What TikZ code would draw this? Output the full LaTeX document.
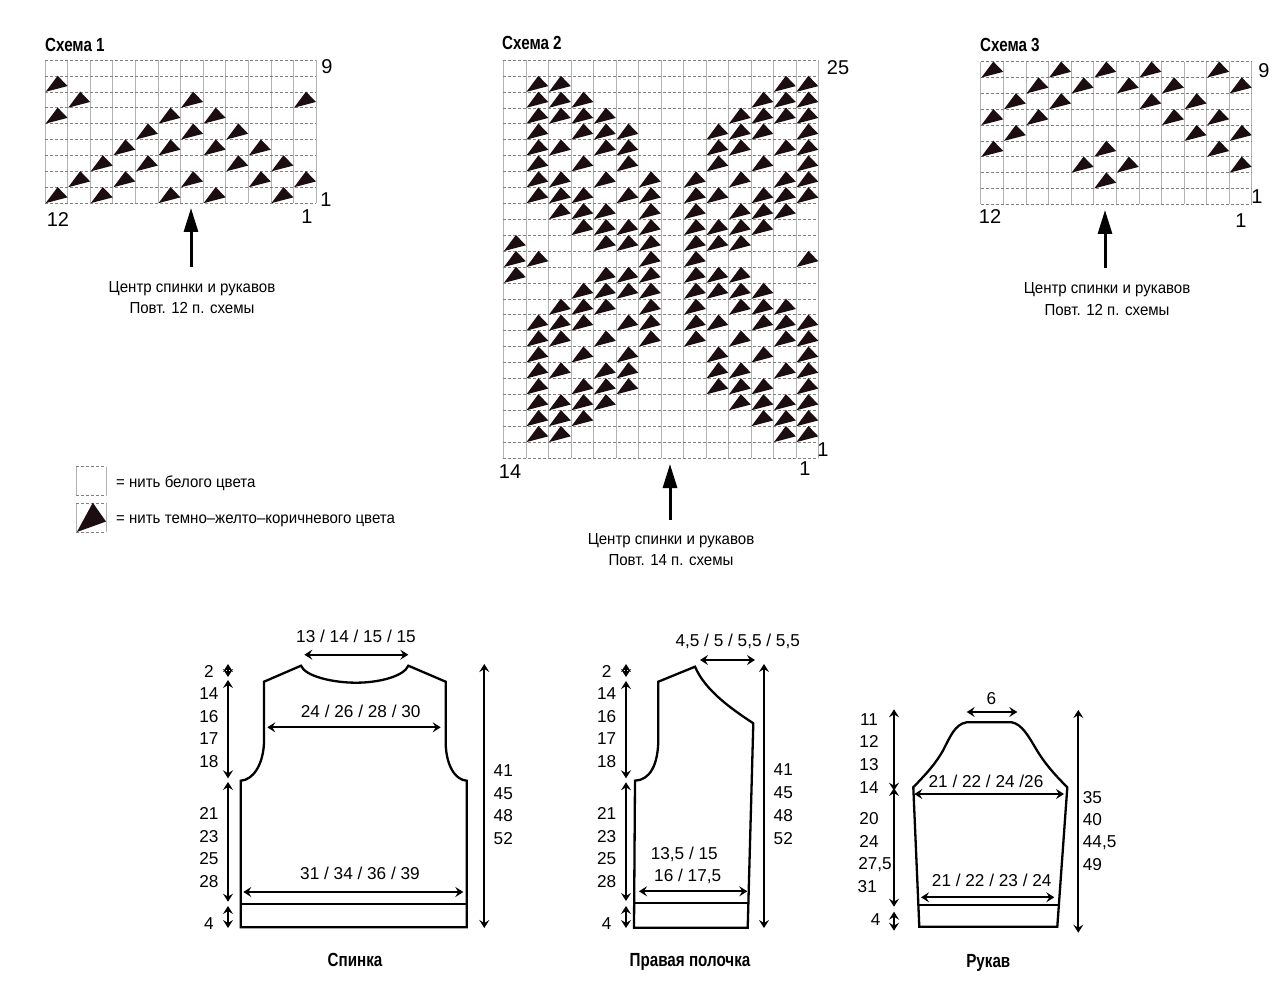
\documentclass[tikz,border=0pt]{standalone}
\usepackage{fontspec}
\setmainfont{Liberation Sans}
\newfontfamily\titlefont[FakeStretch=0.8]{Liberation Sans}
\newfontfamily\notefont[FakeStretch=0.94]{Liberation Sans}
\usetikzlibrary{arrows.meta}
\definecolor{knitdark}{HTML}{1C0E10}
\tikzset{
	knitrowline/.style={densely dashed,line width=0.5pt,black!50},
	knitcolline/.style={line width=0.5pt,black!30},
	knitcell/.style={fill=knitdark},
	outline/.style={line width=2.3pt,line join=miter},
	dimline/.style={{Stealth[length=8pt,width=10pt,inset=3pt]}-{Stealth[length=8pt,width=10pt,inset=3pt]},line width=1.8pt},
	centerline/.style={-{Stealth[length=24pt,width=14pt,inset=0pt]},line width=3pt},
	chartnum/.style={font=\fontsize{20}{22}\selectfont,inner sep=0pt},
	sizenum/.style={font=\fontsize{17.2}{19}\selectfont,inner sep=0pt},
	notetext/.style={font=\notefont\fontsize{16}{18}\selectfont,inner sep=0pt},
	charttitle/.style={font=\titlefont\bfseries\fontsize{19}{21}\selectfont,inner sep=0pt,anchor=west},
	parttitle/.style={font=\titlefont\bfseries\fontsize{19}{21}\selectfont,inner sep=0pt}
}
% x, y, cell width, cell height, columns, rows, row/{columns}
\newcommand{\knitchart}[7]{
	\begin{scope}[shift={(#1,#2)},x=#3pt,y=-#4pt]
		\foreach \i in {0,...,#5} \draw[knitcolline] (\i,0)--(\i,#6);
		\foreach \j in {0,...,#6} \draw[knitrowline] (0,\j)--(#5,\j);
		\foreach \r/\cs in {#7}{
			\foreach \c in \cs{
				\fill[knitcell] ({\c-1+.03},\r)--({\c-1+.56},\r-1.01)--({\c-1+1},\r-.36)--cycle;
			}
		}
	\end{scope}
}
\begin{document}
\begin{tikzpicture}[x=1pt,y=-1pt]
	\path[use as bounding box,fill=white] (0,0) rectangle (1288,1008);

	% charts
	\node[charttitle] (title1) at (45,45) {Схема 1};
	\knitchart{45}{60}{22.58}{15.9}{12}{9}{2/{1},3/{2,7,12},4/{1,6,8},5/{5,7,9},6/{4,6,8,10},7/{3,5,9,11},8/{2,4,7,10,12},9/{1,3,6,8,11}}
	\node[chartnum] (c1top) at (327,67) {9};
	\node[chartnum] (c1right) at (326,200) {1};
	\node[chartnum] (c1left) at (58,220) {12};
	\node[chartnum] (c1low) at (307,217) {1};
	\coordinate (c1a) at (191,267);
	\coordinate (c1b) at (191,208);
	\draw[centerline] (c1a)--(c1b);
	\node[notetext] (c1note) at (192,288.5) {Центр спинки и рукавов};
	\node[notetext] (c1rep) at (192,307.5) {Повт. 12 п. схемы};

	\node[charttitle] (title2) at (502,43) {Схема 2};
	\knitchart{503.3}{60}{22.5}{15.92}{14}{25}{2/{2,3,13,14},3/{2,3,4,12,13,14},4/{2,3,4,5,11,12,13,14},5/{2,4,5,6,10,11,12,14},6/{2,3,5,6,10,11,13,14},7/{2,4,6,10,12,14},8/{2,3,5,7,9,11,13,14},9/{2,3,4,6,7,9,10,12,13,14},10/{3,4,5,7,9,11,12,13},11/{4,5,6,7,9,10,11,12},12/{1,5,6,7,9,10,11},13/{1,2,7,9,14},14/{1,5,6,7,9,10,11},15/{4,5,6,7,9,10,11,12},16/{3,4,5,7,9,11,12,13},17/{2,3,4,6,7,9,10,12,13,14},18/{2,3,5,7,9,11,13,14},19/{2,4,6,10,12,14},20/{2,3,5,6,10,11,13,14},21/{2,4,5,6,10,11,12,14},22/{2,3,4,5,11,12,13,14},23/{2,3,4,12,13,14},24/{2,3,13,14}}
	\node[chartnum] (c2top) at (838,68) {25};
	\node[chartnum] (c2right) at (823,450) {1};
	\node[chartnum] (c2left) at (510,472) {14};
	\node[chartnum] (c2low) at (805,469) {1};
	\coordinate (c2a) at (670,520);
	\coordinate (c2b) at (670,464);
	\draw[centerline] (c2a)--(c2b);
	\node[notetext] (c2note) at (671,540.5) {Центр спинки и рукавов};
	\node[notetext] (c2rep) at (671,560.5) {Повт. 14 п. схемы};

	\node[charttitle] (title3) at (980,45) {Схема 3};
	\knitchart{980.7}{61.7}{22.58}{15.84}{12}{9}{1/{1,4,6,8,11},2/{3,5,7,9,12},3/{2,4,8,10},4/{1,3,9,11},5/{2,10,12},6/{1,6,11},7/{5,7,12},8/{6}}
	\node[chartnum] (c3top) at (1264,71) {9};
	\node[chartnum] (c3right) at (1257,197) {1};
	\node[chartnum] (c3left) at (990,217) {12};
	\node[chartnum] (c3low) at (1241,221) {1};
	\coordinate (c3a) at (1105,268);
	\coordinate (c3b) at (1105,210);
	\draw[centerline] (c3a)--(c3b);
	\node[notetext] (c3note) at (1107,289.5) {Центр спинки и рукавов};
	\node[notetext] (c3rep) at (1107,309.5) {Повт. 12 п. схемы};

	% legend
	\knitchart{76}{466.7}{30}{29}{1}{1}{}
	\knitchart{76}{503}{30}{29}{1}{1}{1/{1}}
	\node[notetext,anchor=west] (leg1) at (116,483) {= нить белого цвета};
	\node[notetext,anchor=west] (leg2) at (116,520.5) {= нить темно–желто–коричневого цвета};

	% back
	\draw[outline] (240.7,927.3)--(466.7,927.3)--(466.7,780.7)
		.. controls (455,780) and (446,765) .. (445.7,743)--(445.7,681.7)--(408.3,665.7)
		.. controls (404,676) and (380,682.7) .. (356,682.7)
		.. controls (332,682.7) and (305,676) .. (301,665.7)--(264,681.7)--(264,743)
		.. controls (263,765) and (253,780) .. (240.7,780.7)--cycle;
	\draw[outline] (240.7,904)--(466.7,904);
	\foreach \nm/\ax/\ay/\bx/\by in {b1/228/664/228/677,b2/228/680/228/778.3,b3/228/782/228/901.7,b4/228/906/228/928,b5/484.3/664/484.3/928,b6/304.3/654.7/408.3/654.7,b7/267.3/727.3/440.7/727.3,b8/243.3/892/463.3/892}{
		\coordinate (\nm a) at (\ax,\ay);
		\coordinate (\nm b) at (\bx,\by);
		\draw[dimline] (\nm a)--(\nm b);
	}
	\node[sizenum] (bneck) at (356,636.7) {13 / 14 / 15 / 15};
	\node[sizenum] (bchest) at (360.7,711.7) {24 / 26 / 28 / 30};
	\node[sizenum] (bhem) at (360,873.3) {31 / 34 / 36 / 39};
	\foreach \lab/\yy [count=\i] in {2/671.7,14/693.3,16/716.7,17/738.3,18/761.7,21/813.3,23/836.7,25/859,28/881.7,4/924}
		\node[sizenum] (bl\i) at (209,\yy) {\lab};
	\foreach \lab/\yy [count=\i] in {41/770.7,45/793.3,48/816,52/839}
		\node[sizenum] (br\i) at (503.3,\yy) {\lab};
	\node[parttitle] (backtitle) at (355,960) {Спинка};

	% front
	\draw[outline] (634,927.7)--(747.7,927.7)--(753.3,723.3)
		.. controls (730,708) and (705,690) .. (695,666.7)--(658.3,681.7)--(658.3,740)
		.. controls (658,765) and (650,780) .. (635,780.7)--cycle;
	\draw[outline] (634,903.3)--(748.3,903.3);
	\foreach \nm/\ax/\ay/\bx/\by in {f1/626/664/626/677,f2/626/681/626/778.3,f3/626/782.3/626/901,f4/626/906/626/928,f5/764/664/764/928,f6/700/660/755/660,f7/639/891.3/747.3/891.3}{
		\coordinate (\nm a) at (\ax,\ay);
		\coordinate (\nm b) at (\bx,\by);
		\draw[dimline] (\nm a)--(\nm b);
	}
	\node[sizenum] (fneck) at (737.7,641.7) {4,5 / 5 / 5,5 / 5,5};
	\node[sizenum] (fhema) at (684.3,854.3) {13,5 / 15};
	\node[sizenum] (fhemb) at (687.7,876.7) {16 / 17,5};
	\foreach \lab/\yy [count=\i] in {2/671.7,14/693.3,16/716.7,17/738.3,18/761.7,21/813.3,23/836.7,25/859,28/881.7,4/924}
		\node[sizenum] (fl\i) at (606.7,\yy) {\lab};
	\foreach \lab/\yy [count=\i] in {41/770,45/793,48/815.5,52/838.5}
		\node[sizenum] (fr\i) at (783.3,\yy) {\lab};
	\node[parttitle] (fronttitle) at (690,961.5) {Правая полочка};

	% sleeve
	\draw[outline] (919.3,926.7)--(1057.3,926.7)--(1067.3,787.3)
		.. controls (1052,772) and (1044,762) .. (1036.7,750)
		.. controls (1029,737) and (1022,724) .. (1011.7,722.3)--(966.7,722.3)
		.. controls (955,724) and (950,737) .. (943.3,750)
		.. controls (936,763) and (928,772) .. (913.3,787.3)--cycle;
	\draw[outline] (918.5,905.3)--(1058.5,905.3);
	\foreach \nm/\ax/\ay/\bx/\by in {s1/894/709.3/894/790.7,s2/894/788/894/906.7,s3/894/911.7/894/930.7,s4/1078.3/710/1078.3/932.7,s5/966.7/712/1017.3/712,s6/914.3/794/1064/794,s7/921/897.3/1054.3/897.3}{
		\coordinate (\nm a) at (\ax,\ay);
		\coordinate (\nm b) at (\bx,\by);
		\draw[dimline] (\nm a)--(\nm b);
	}
	\node[sizenum] (stop) at (991.3,698.3) {6};
	\node[sizenum] (scap) at (986,781.7) {21 / 22 / 24 /26};
	\node[sizenum] (shem) at (991.7,880.7) {21 / 22 / 23 / 24};
	\foreach \lab/\xx/\yy [count=\i] in {11/869/719.3,12/869/741.7,13/869/765,14/869/787.3,20/869/818.3,24/869/841,{27,5}/875/864.3,31/867.3/886.7,4/875.7/920}
		\node[sizenum] (sl\i) at (\xx,\yy) {\lab};
	\foreach \lab/\yy [count=\i] in {35/797.3,40/820,{44,5}/842.7,49/865}
		\node[sizenum,anchor=west] (sr\i) at (1082.7,\yy) {\lab};
	\node[parttitle] (sleevetitle) at (988.3,963) {Рукав};
\end{tikzpicture}
\end{document}
